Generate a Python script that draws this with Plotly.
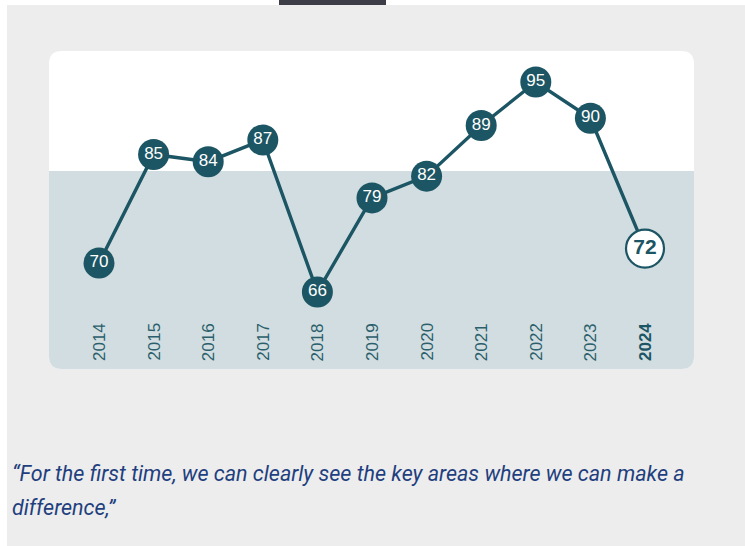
import plotly.graph_objects as go

years = [2014, 2015, 2016, 2017, 2018, 2019, 2020, 2021, 2022, 2023, 2024]
scores = [70, 85, 84, 87, 66, 79, 82, 89, 95, 90, 72]
year_labels = [str(y) for y in years]
quote_lines = ["“For the first time, we can clearly see the key areas where we can make a",
               "difference,”"]

W, H = 745, 546
L, R, T, B = 49, 694, 51, 369  # card / plot area in px
PW, PH = R - L, B - T

def px(x):
    return (x - L) / PW

def py(y):
    return (B - y) / PH

DARK = "#1c5563"
SHADE = "#d1dde0"
BG = "#ededed"
FONT = "Liberation Sans"

fig = go.Figure()

fig.add_trace(go.Scatter(x=years, y=scores, mode="lines",
                         line=dict(color=DARK, width=3.4), hoverinfo="skip",
                         showlegend=False))
fig.add_trace(go.Scatter(x=years[:-1], y=scores[:-1], mode="markers+text",
                         marker=dict(size=31, color=DARK, line=dict(width=0)),
                         text=[str(v) for v in scores[:-1]], textposition="middle center",
                         textfont=dict(color="white", size=17, family=FONT),
                         showlegend=False))
fig.add_trace(go.Scatter(x=years[-1:], y=scores[-1:], mode="markers+text",
                         marker=dict(size=38, color="white", line=dict(width=2.2, color=DARK)),
                         text=[str(scores[-1])], textposition="middle center",
                         textfont=dict(color=DARK, size=21, family=FONT, weight="bold"),
                         showlegend=False))

r = 13
rx, ry = r / PW, r / PH
shade_top = py(171)
card = (f"M {px(L)} {py(B)+ry} L {px(L)} {py(T)-ry} Q {px(L)} {py(T)} {px(L)+rx} {py(T)} "
        f"L {px(R)-rx} {py(T)} Q {px(R)} {py(T)} {px(R)} {py(T)-ry} "
        f"L {px(R)} {py(B)+ry} Q {px(R)} {py(B)} {px(R)-rx} {py(B)} "
        f"L {px(L)+rx} {py(B)} Q {px(L)} {py(B)} {px(L)} {py(B)+ry} Z")
shade = (f"M {px(L)} {shade_top} L {px(R)} {shade_top} "
         f"L {px(R)} {py(B)+ry} Q {px(R)} {py(B)} {px(R)-rx} {py(B)} "
         f"L {px(L)+rx} {py(B)} Q {px(L)} {py(B)} {px(L)} {py(B)+ry} Z")

shapes = [
    dict(type="rect", xref="paper", yref="paper", x0=px(7), x1=px(W), y0=py(H), y1=py(5),
         fillcolor=BG, line=dict(width=0), layer="below"),
    dict(type="rect", xref="paper", yref="paper", x0=px(279), x1=px(386), y0=py(5), y1=py(0),
         fillcolor="#3c3d47", line=dict(width=0), layer="below"),
    dict(type="path", xref="paper", yref="paper", path=card, fillcolor="white",
         line=dict(width=0), layer="below"),
    dict(type="path", xref="paper", yref="paper", path=shade, fillcolor=SHADE,
         line=dict(width=0), layer="below"),
]

annotations = []
for i, lab in enumerate(year_labels):
    last = i == len(year_labels) - 1
    annotations.append(dict(x=years[i], y=py(342), xref="x", yref="paper",
                            text=f"<b>{lab}</b>" if last else lab, textangle=-90,
                            showarrow=False, xanchor="center", yanchor="middle",
                            font=dict(size=17, color=DARK if last else "#2b5f6c",
                                      family=FONT)))
for j, line in enumerate(quote_lines):
    annotations.append(dict(x=px(10), y=py(473 + 34 * j), xref="paper", yref="paper",
                            text=f"<i>{line}</i>", showarrow=False, xanchor="left",
                            yanchor="middle",
                            font=dict(size=21.5, color="#1f3f7e", family="Roboto")))

fig.update_layout(
    width=W, height=H,
    margin=dict(l=L, r=W - R, t=T, b=H - B),
    paper_bgcolor="white", plot_bgcolor="rgba(0,0,0,0)",
    xaxis=dict(range=[2014 - (99 - L) / 54.6, 2014 + (R - 99) / 54.6], visible=False,
               fixedrange=True),
    yaxis=dict(range=[66 - (B - 292) / 7.24, 66 + (292 - T) / 7.24], visible=False,
               fixedrange=True),
    shapes=shapes, annotations=annotations,
)

fig.write_html("out.html", config=dict(displayModeBar=False))
